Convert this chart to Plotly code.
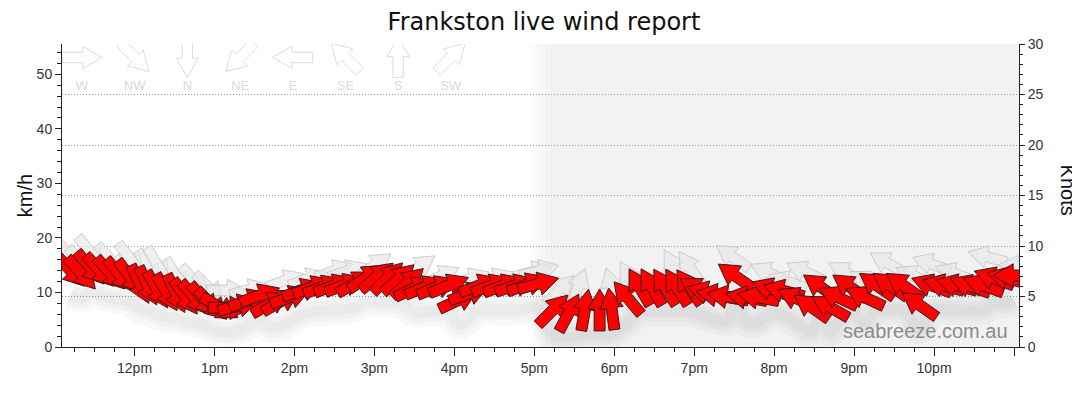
"""Frankston live wind report.

Wind speed and gust observations for the last 12 hours drawn as block
arrows (pointing the way the wind blows) on a km/h axis, with a knots
axis on the right and a compass key across the top.
"""

import math

import plotly.graph_objects as go

# ── Data ────────────────────────────────────────────────────────────

OBS_TIMES = [
    "11:12", "11:20", "11:27", "11:34", "11:42", "11:49", "11:57", "12:04",
    "12:10", "12:17", "12:24", "12:31", "12:38", "12:45", "12:52", "12:58",
    "13:04", "13:11", "13:18", "13:26", "13:34", "13:42", "13:50", "13:57",
    "14:06", "14:14", "14:22", "14:30", "14:38", "14:46", "14:54", "15:02",
    "15:10", "15:18", "15:25", "15:30", "15:38", "15:47", "15:56", "16:03",
    "16:11", "16:19", "16:28", "16:37", "16:46", "16:55", "17:03", "17:14",
    "17:26", "17:38", "17:49", "17:58", "18:10", "18:19", "18:28", "18:38",
    "18:47", "18:56", "19:03", "19:10", "19:17", "19:25", "19:31", "19:39",
    "19:48", "19:58", "20:07", "20:17", "20:28", "20:35", "20:42", "20:48",
    "20:57", "21:08", "21:17", "21:27", "21:37", "21:49", "21:58", "22:07",
    "22:17", "22:27", "22:37", "22:45", "22:55", "23:00",
]
OBS_KMH = [
    14.0, 13.5, 14.5, 14.0, 13.5, 13.2, 12.8, 11.5,
    11.2, 10.5, 10.0, 9.8, 9.2, 9.0, 8.6, 7.8,
    7.3, 7.2, 7.6, 8.6, 9.5, 8.0, 8.4, 9.2,
    10.5, 11.0, 11.1, 11.3, 11.4, 11.8, 12.8, 12.9,
    12.7, 12.5, 11.8, 10.8, 11.0, 11.0, 11.3, 8.6,
    9.8, 11.3, 11.3, 11.3, 11.3, 11.5, 11.6, 6.8,
    6.3, 6.8, 6.8, 7.0, 9.0, 11.0, 11.0, 11.0,
    11.0, 11.0, 10.6, 10.0, 9.5, 9.2, 13.0, 9.1,
    9.1, 10.6, 10.3, 8.9, 7.3, 11.0, 7.3, 9.1,
    11.0, 9.1, 11.3, 11.3, 11.3, 7.7, 11.3, 11.3,
    11.3, 11.2, 11.3, 12.6, 12.6, 13.1,
]
# direction the wind blows from, degrees
OBS_DIR = [
    318, 318, 320, 318, 318, 320, 322, 335,
    335, 330, 330, 335, 325, 320, 320, 315,
    300, 270, 255, 250, 250, 240, 240, 250,
    250, 250, 250, 250, 250, 240, 235, 230,
    225, 228, 228, 245, 248, 248, 248, 245,
    250, 250, 250, 250, 252, 250, 255, 225,
    208, 190, 180, 172, 140, 150, 150, 148,
    148, 145, 120, 105, 100, 100, 125, 100,
    100, 110, 105, 115, 125, 125, 120, 115,
    125, 115, 125, 125, 125, 125, 110, 105,
    105, 110, 110, 110, 105, 90,
]

GUST_TIMES = [
    "11:12", "11:20", "11:27", "11:42", "11:57", "12:10", "12:17", "12:31",
    "12:45", "12:56", "13:09", "13:26", "13:53", "14:10", "14:30", "14:40",
    "15:00", "15:33", "15:50", "16:12", "16:30", "16:59", "17:04", "17:19",
    "17:33", "17:58", "18:12", "18:45", "18:57", "19:29", "19:56", "20:10",
    "20:23", "20:54", "21:10", "21:25", "21:45", "21:58", "22:15", "22:40",
    "23:03",
]
GUST_KMH = [
    16.8, 15.5, 17.4, 16.0, 16.1, 14.5, 15.0, 13.0,
    12.0, 10.8, 10.4, 10.5, 12.2, 12.5, 14.0, 14.0,
    15.0, 14.6, 13.0, 12.5, 12.5, 13.8, 14.0, 10.5,
    11.0, 11.0, 12.5, 14.6, 14.5, 16.5, 13.6, 12.0,
    13.8, 13.6, 12.0, 15.4, 13.0, 15.2, 13.5, 16.5,
    14.7,
]
GUST_DIR = [
    315, 318, 320, 318, 322, 330, 330, 330,
    320, 315, 270, 255, 250, 250, 250, 250,
    235, 235, 245, 250, 250, 255, 255, 225,
    200, 165, 150, 150, 145, 125, 115, 110,
    115, 120, 120, 120, 115, 110, 110, 105,
    95,
]

KEY_LABELS = ["W", "NW", "N", "NE", "E", "SE", "S", "SW"]
KEY_DIR = [270, 315, 0, 45, 90, 135, 180, 225]

HOUR_TICKS = [12, 13, 14, 15, 16, 17, 18, 19, 20, 21, 22, 23]
HOUR_LABELS = ["12pm", "1pm", "2pm", "3pm", "4pm", "5pm", "6pm", "7pm",
               "8pm", "9pm", "10pm", ""]

X_RANGE = [11.0925, 23.0625]
KNOTS_MAX = 30
KMH_MAX = KNOTS_MAX * 1.852
NIGHT_FROM = 16.95

# ── Page geometry ───────────────────────────────────────────────────
# the page body keeps its default 8px margin, so the figure starts 8px in
# from the top-left corner and is sized to end at the window edge

WIDTH, HEIGHT = 1072, 406
MARGIN = dict(l=54, r=61, t=36, b=67)
PLOT_W = WIDTH - MARGIN["l"] - MARGIN["r"]
PLOT_H = HEIGHT - MARGIN["t"] - MARGIN["b"]
HOURS_PER_PX = (X_RANGE[1] - X_RANGE[0]) / PLOT_W
KMH_PER_PX = KMH_MAX / PLOT_H
ARROW_LEN = 42

TICK_FONT = dict(family="Liberation Sans, Arial", size=14, color="#333")
LABEL_FONT = dict(family="Liberation Sans, Arial", size=20, color="#111")


def to_hours(hhmm: str) -> float:
    """'13:04' -> 13.067"""
    h, m = hhmm.split(":")
    return int(h) + int(m) / 60


def arrow_outline(x: float, y: float, wind_from: float, length: float = ARROW_LEN):
    """Block arrow centred on (x, y), pointing downwind.

    The shape is built in screen pixels and scaled back into axis units so
    the arrows keep their proportions on the non-square plot.
    """
    b = math.radians((wind_from + 180) % 360)
    s, c = math.sin(b), math.cos(b)
    half = length / 2
    head = 0.48 * length
    shaft = 0.13 * length
    wing = 0.28 * length
    pts = [
        (-half, -shaft), (half - head, -shaft), (half - head, -wing),
        (half, 0), (half - head, wing), (half - head, shaft),
        (-half, shaft), (-half, -shaft),
    ]
    xs, ys = [], []
    for u, v in pts:
        xs.append(x + (u * s + v * c) * HOURS_PER_PX)
        ys.append(y + (u * c - v * s) * KMH_PER_PX)
    return xs, ys


def add_arrows(fig, times, speeds, dirs, fill, line, length=ARROW_LEN):
    for t, v, d in zip(times, speeds, dirs):
        xs, ys = arrow_outline(to_hours(t), v, d, length)
        fig.add_trace(go.Scatter(
            x=xs, y=ys, mode="lines", fill="toself",
            fillcolor=fill, line=dict(color=line, width=1),
            hoverinfo="skip", showlegend=False,
        ))


fig = go.Figure()

# soft drop shadow under the speed arrows
obs_x = [to_hours(t) for t in OBS_TIMES]
for width in (30, 20, 11):
    fig.add_trace(go.Scatter(
        x=obs_x, y=[v - 4.5 for v in OBS_KMH], mode="lines",
        line=dict(color="rgba(0,0,0,0.028)", width=width, shape="spline"),
        hoverinfo="skip", showlegend=False,
    ))

# gusts (behind) then average speed
add_arrows(fig, GUST_TIMES, GUST_KMH, GUST_DIR,
           "rgba(230,230,230,0.65)", "rgba(200,200,200,0.9)", 40)
add_arrows(fig, OBS_TIMES, OBS_KMH, OBS_DIR, "#ff0000", "#3a1a1a")

# compass key along the top
key_x = [X_RANGE[0] + (0.25 + 0.659 * i) for i in range(len(KEY_LABELS))]
for kx, d in zip(key_x, KEY_DIR):
    xs, ys = arrow_outline(kx, 53.1, d, 40)
    fig.add_trace(go.Scatter(
        x=xs, y=ys, mode="lines", fill="toself",
        fillcolor="rgba(255,255,255,0)", line=dict(color="#dcdcdc", width=1),
        hoverinfo="skip", showlegend=False,
    ))
fig.add_trace(go.Scatter(
    x=key_x, y=[47.7] * len(KEY_LABELS), mode="text", text=KEY_LABELS,
    textfont=dict(family="Liberation Sans, Arial", size=13, color="#dadada"),
    hoverinfo="skip", showlegend=False,
))

# anchor for the knots axis
fig.add_trace(go.Scatter(
    x=[X_RANGE[0]], y=[0], yaxis="y2", mode="markers",
    marker=dict(opacity=0), hoverinfo="skip", showlegend=False,
))

# night shading, faded in over a few steps
fade = ["#fcfcfc", "#f9f9f9", "#f6f6f6", "#f4f4f4", "#f2f2f2"]
step = 0.06
for i, colour in enumerate(fade):
    x0 = NIGHT_FROM + i * step
    x1 = X_RANGE[1] if i == len(fade) - 1 else x0 + step
    fig.add_shape(type="rect", xref="x", yref="y", x0=x0, x1=x1,
                  y0=0, y1=KMH_MAX, fillcolor=colour, line_width=0,
                  layer="below")

fig.update_layout(
    width=WIDTH,
    height=HEIGHT,
    margin=MARGIN,
    paper_bgcolor="white",
    plot_bgcolor="white",
    showlegend=False,
    title=dict(text="Frankston live wind report", x=0.5, y=0.966,
               xanchor="center", yanchor="middle",
               font=dict(family="DejaVu Sans", size=24, color="#111")),
    xaxis=dict(
        range=X_RANGE, tickmode="array", tickvals=HOUR_TICKS,
        ticktext=HOUR_LABELS, ticks="outside", ticklen=8, tickcolor="#222",
        minor=dict(tickmode="linear", tick0=12, dtick=0.25, ticks="outside",
                   ticklen=4, tickcolor="#222"),
        showline=True, linecolor="#222", showgrid=False, zeroline=False,
        tickfont=TICK_FONT,
    ),
    yaxis=dict(
        range=[0, KMH_MAX], tickmode="linear", tick0=0, dtick=10,
        ticks="outside", ticklen=6, tickcolor="#222",
        minor=dict(tickmode="linear", tick0=0, dtick=2, ticks="outside",
                   ticklen=4, tickcolor="#222"),
        showline=True, linecolor="#222", showgrid=False, zeroline=False,
        tickfont=TICK_FONT,
    ),
    yaxis2=dict(
        range=[0, KNOTS_MAX], overlaying="y", side="right",
        tickmode="linear", tick0=0, dtick=5, ticks="outside", ticklen=5,
        tickcolor="#222",
        minor=dict(tickmode="linear", tick0=0, dtick=1, ticks="outside",
                   ticklen=3, tickcolor="#222"),
        showline=True, linecolor="#222", showgrid=True, griddash="1px,2px",
        gridcolor="#9a9a9a", gridwidth=1, zeroline=False,
        tickfont=TICK_FONT,
    ),
    annotations=[
        dict(text="km/h", xref="paper", yref="paper", x=-0.039, y=0.5,
             xanchor="center", yanchor="middle", textangle=-90,
             showarrow=False, font=LABEL_FONT),
        dict(text="Knots", xref="paper", yref="paper", x=1.051, y=0.517,
             xanchor="center", yanchor="middle", textangle=90,
             showarrow=False, font=LABEL_FONT),
        dict(text="seabreeze.com.au", xref="paper", yref="paper",
             x=0.902, y=0.052, xanchor="center", yanchor="middle",
             showarrow=False,
             font=dict(family="Liberation Sans, Arial", size=20,
                       color="#8a8a8a")),
    ],
)

fig.write_html("out.html")
